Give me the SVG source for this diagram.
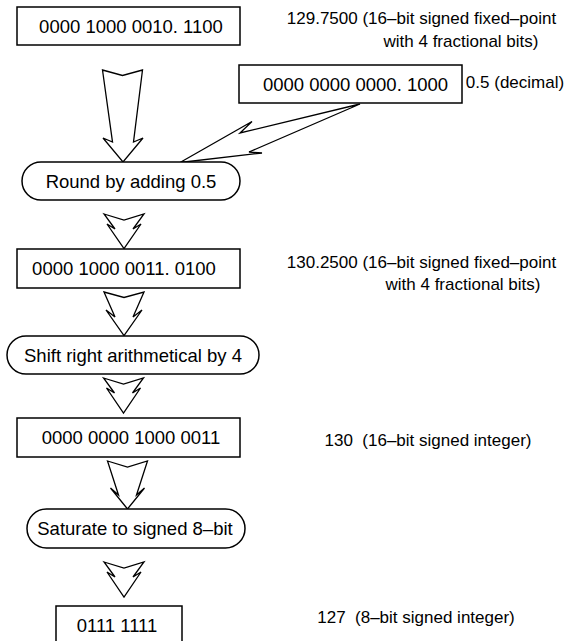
<svg xmlns="http://www.w3.org/2000/svg" width="580" height="641" viewBox="0 0 580 641">
  <style>
    .box { fill: #fff; stroke: #000; stroke-width: 1.5; }
    .arrow { fill: #fff; stroke: #000; stroke-width: 1.3; stroke-linejoin: miter; }
    .t { font-family: "Liberation Sans", Arial, sans-serif; font-size: 18.5px; fill: #000; text-anchor: middle; }
    .note { font-family: "Liberation Sans", Arial, sans-serif; font-size: 17px; fill: #000; text-anchor: middle; white-space: pre; }
  </style>
  <rect width="580" height="641" fill="#fff"/>

  <!-- connectors: hollow zig-zag arrows -->
  <g id="connectors">
    <path class="arrow" d="M102.5,70 L122.5,75.5 L142.5,70 L133.5,142 L143,138 L123,162 L103,138 L112.5,142 Z"/>
    <path class="arrow" d="M360,104 L240,133 L252,121.5 L180,162.5 L262,153 L249,152 Z"/>
    <path class="arrow" d="M104,214 L124,220 L144,214 L133,229 L141,224 L124,248.5 L107,224 L115,229 Z"/>
    <path class="arrow" d="M104,292 L124,297.5 L144,292 L133,317 L142,310 L124,335.5 L106,310 L115,317 Z"/>
    <path class="arrow" d="M103.5,378 L123.5,384 L143.5,378 L132.5,393 L140.5,388 L123.5,413 L106.5,388 L114.5,393 Z"/>
    <path class="arrow" d="M107.5,461 L127.5,467 L147.5,461 L136.5,495 L144.5,488 L127.5,509 L110.5,488 L118.5,495 Z"/>
    <path class="arrow" d="M104,562 L124,568 L144,562 L133,577 L141,572 L124,597 L107,572 L115,577 Z"/>
  </g>

  <g id="in-value">
    <rect class="box" x="17" y="7" width="223" height="38"/>
    <text class="t" x="131" y="33">0000 1000 0010. 1100</text>
  </g>
  <g id="in-note">
    <text class="note" x="421.5" y="24">129.7500 (16–bit signed fixed–point</text>
    <text class="note" x="461" y="47">with 4 fractional bits)</text>
  </g>

  <g id="half">
    <rect class="box" x="239" y="65" width="223" height="38"/>
    <text class="t" x="355.5" y="91">0000 0000 0000. 1000</text>
    <text class="note" x="515" y="88">0.5 (decimal)</text>
  </g>

  <g id="round">
    <rect class="box" x="22" y="162" width="218" height="38" rx="19"/>
    <text class="t" x="131" y="188">Round by adding 0.5</text>
  </g>

  <g id="rounded-value">
    <rect class="box" x="17" y="249" width="223" height="39"/>
    <text class="t" x="124" y="275">0000 1000 0011. 0100</text>
  </g>
  <g id="rounded-note">
    <text class="note" x="421.5" y="268">130.2500 (16–bit signed fixed–point</text>
    <text class="note" x="463" y="290">with 4 fractional bits)</text>
  </g>

  <g id="shift">
    <rect class="box" x="7" y="336" width="252" height="38" rx="19"/>
    <text class="t" x="133" y="361.5">Shift right arithmetical by 4</text>
  </g>

  <g id="int-value">
    <rect class="box" x="17" y="418" width="223" height="39"/>
    <text class="t" x="131" y="444">0000 0000 1000 0011</text>
    <text class="note" x="428" y="446">130  (16–bit signed integer)</text>
  </g>

  <g id="saturate">
    <rect class="box" x="27" y="509" width="218" height="39" rx="19.5"/>
    <text class="t" x="135" y="535">Saturate to signed 8–bit</text>
  </g>

  <g id="out-value">
    <rect class="box" x="56" y="606" width="126" height="42"/>
    <text class="t" x="117" y="632">0111 1111</text>
    <text class="note" x="416" y="623">127  (8–bit signed integer)</text>
  </g>
</svg>
